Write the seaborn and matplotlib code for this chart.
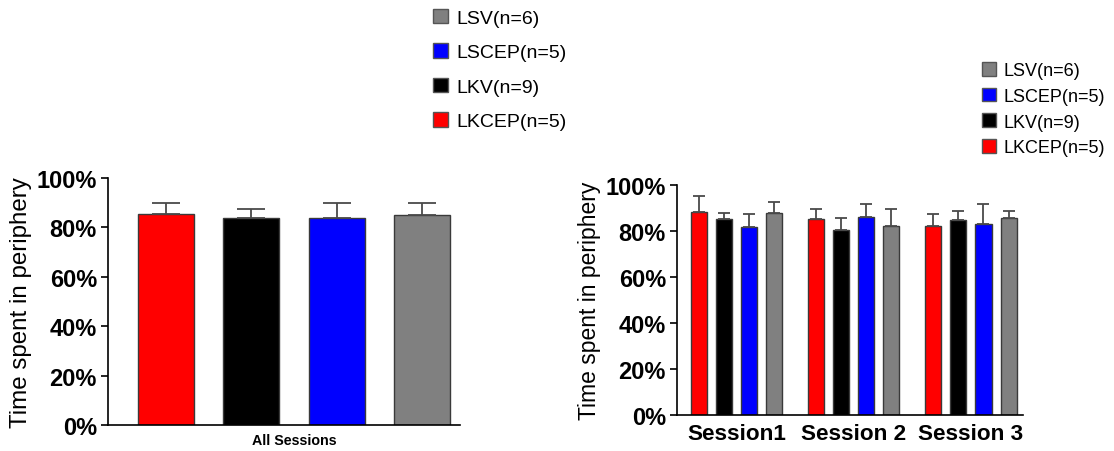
import matplotlib
matplotlib.use("Agg")
import matplotlib.pyplot as plt
import seaborn as sns
import pandas as pd
from matplotlib.patches import Patch
from matplotlib.ticker import FuncFormatter

# ---- data ----
groups = ["LKCEP", "LKV", "LSCEP", "LSV"]
legend_labels = ["LKCEP(n=5)", "LKV(n=9)", "LSCEP(n=5)", "LSV(n=6)"]
colors = ["#ff0000", "#000000", "#0000ff", "#808080"]

all_label = "All Sessions"
all_means = [85.4, 83.7, 83.9, 85.0]
all_errs = [4.5, 3.6, 6.1, 5.0]

sessions = ["Session1", "Session 2", "Session 3"]
s1_means = [88.4, 85.1, 81.7, 87.8]
s2_means = [85.1, 80.6, 86.3, 82.2]
s3_means = [82.2, 84.8, 83.2, 85.7]
s1_errs = [6.6, 2.6, 5.6, 4.8]
s2_errs = [4.6, 4.9, 5.3, 7.2]
s3_errs = [5.2, 3.9, 8.5, 3.0]

yticks = [0, 20, 40, 60, 80, 100]

sns.set_theme(style="ticks")
plt.rcParams["font.family"] = ["Liberation Sans", "DejaVu Sans"]
plt.rcParams["text.color"] = "black"
plt.rcParams["axes.labelcolor"] = "black"
plt.rcParams["xtick.color"] = "black"
plt.rcParams["ytick.color"] = "black"

W, H = 1114, 452
fig = plt.figure(figsize=(W / 100, H / 100), dpi=100)

def px_axes(x0, y0, x1, y1):
    return fig.add_axes([x0 / W, 1 - y1 / H, (x1 - x0) / W, (y1 - y0) / H])

ax1 = px_axes(108, 179, 460, 426)
ax2 = px_axes(677, 186, 1023, 416)

df_all = pd.DataFrame({"cat": [all_label] * 4, "group": groups, "val": all_means})
df_sess = pd.DataFrame({
    "cat": [s for s in sessions for _ in groups],
    "group": groups * 3,
    "val": s1_means + s2_means + s3_means,
})
err_all = {g: [e] for g, e in zip(groups, all_errs)}
err_sess = {g: [s1_errs[i], s2_errs[i], s3_errs[i]] for i, g in enumerate(groups)}

pal = dict(zip(groups, colors))

def draw(ax, df, errs, width, gap, capsize, cats):
    sns.barplot(data=df, x="cat", y="val", hue="group", hue_order=groups,
                order=cats, palette=pal, width=width, gap=gap, ax=ax,
                legend=False, edgecolor="#3a3a3a", linewidth=1.0, saturation=1)
    for cont, g in zip(ax.containers, groups):
        xs = [p.get_x() + p.get_width() / 2 for p in cont]
        ys = [p.get_height() for p in cont]
        ax.errorbar(xs, ys, yerr=[[0] * len(ys), errs[g]], fmt="none",
                    ecolor="#4a4a4a", elinewidth=1.3, capsize=capsize,
                    capthick=1.3, zorder=1)
    ax.set_ylim(0, 100)
    ax.set_yticks(yticks)
    ax.yaxis.set_major_formatter(FuncFormatter(lambda v, p: f"{v:.0f}%"))
    ax.set_xlabel("")
    sns.despine(ax=ax)
    for s in ["left", "bottom"]:
        ax.spines[s].set_linewidth(1.2)
        ax.spines[s].set_color("black")
    ax.tick_params(axis="y", length=5, width=1.2, color="black", labelcolor="black", pad=3)
    ax.tick_params(axis="x", length=0, pad=6, labelcolor="black")

draw(ax1, df_all, err_all, 0.8, 0.345, 10, [all_label])
ax1.set_xlim(-0.4357, 0.389)
draw(ax2, df_sess, err_sess, 0.855, 0.36, 4, sessions)
ax2.set_xlim(-0.509, 2.444)

for ax in (ax1, ax2):
    for t in ax.get_yticklabels():
        t.set_fontsize(17)
        t.set_fontweight("bold")

for t in ax1.get_xticklabels():
    t.set_fontsize(10.3)
    t.set_fontweight("bold")
for t in ax2.get_xticklabels():
    t.set_fontsize(16.2)
    t.set_fontweight("bold")

ax1.set_ylabel("Time spent in periphery", fontsize=17.4, labelpad=3, color="black")
ax2.set_ylabel("Time spent in periphery", fontsize=16.5, labelpad=3, color="black")

handles = [Patch(facecolor=c, edgecolor="#555555", linewidth=1.0) for c in colors][::-1]
labels = legend_labels[::-1]

fig.legend(handles, labels, loc="upper left", bbox_to_anchor=(433 / W, 1 - 10 / H),
           frameon=False, fontsize=14, handlelength=0.75, handleheight=0.75,
           handletextpad=0.45, labelspacing=0.85, borderpad=0, borderaxespad=0,
           labelcolor="black")
fig.legend(handles, labels, loc="upper left", bbox_to_anchor=(982 / W, 1 - 63 / H),
           frameon=False, fontsize=13, handlelength=0.8, handleheight=0.8,
           handletextpad=0.4, labelspacing=0.47, borderpad=0, borderaxespad=0,
           labelcolor="black")

fig.savefig("out.png", dpi=100)
